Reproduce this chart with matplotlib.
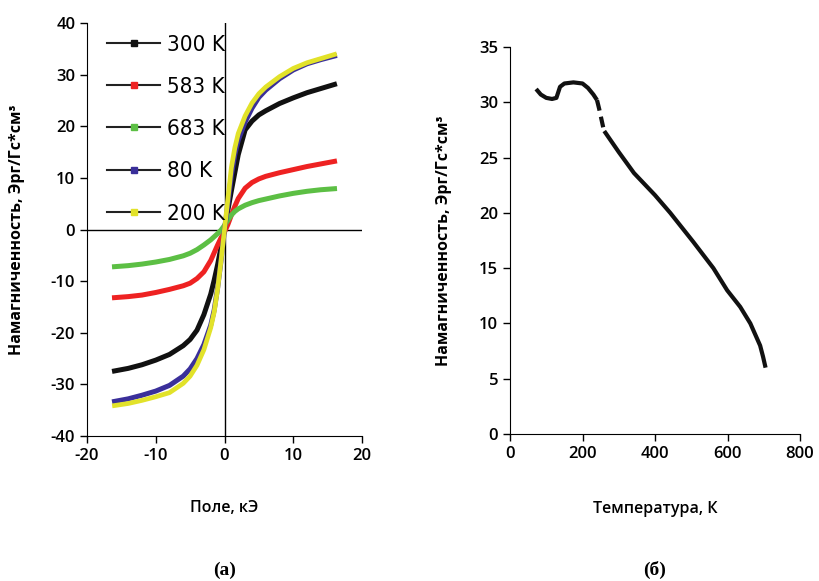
import numpy as np
import matplotlib.pyplot as plt
from matplotlib.lines import Line2D

# Поле, кЭ
H = [-16, -14, -12, -10, -8, -6, -5, -4, -3, -2, -1.5, -1, -0.5, 0,
     0.5, 1, 1.5, 2, 3, 4, 5, 6, 8, 10, 12, 14, 16]

m_300 = [-27.4, -26.9, -26.2, -25.3, -24.2, -22.5, -21.3, -19.5, -16.5, -12.5, -9.8, -6.8, -3.4, 0,
         3.8, 7.5, 11.0, 14.5, 19.3, 21.0, 22.2, 23.0, 24.4, 25.5, 26.5, 27.3, 28.1]
m_583 = [-13.2, -13.0, -12.7, -12.2, -11.6, -10.9, -10.4, -9.5, -8.2, -6.0, -4.5, -3.0, -1.6, -0.5,
         1.0, 2.8, 4.5, 6.0, 8.0, 9.1, 9.8, 10.3, 11.0, 11.6, 12.2, 12.7, 13.2]
m_683 = [-7.2, -7.0, -6.7, -6.3, -5.8, -5.1, -4.6, -3.9, -3.0, -2.0, -1.4, -0.8, -0.1, 0.8,
         1.8, 2.8, 3.5, 4.0, 4.7, 5.2, 5.6, 5.9, 6.5, 7.0, 7.4, 7.7, 7.9]
m_80 = [-33.3, -32.8, -32.1, -31.3, -30.2, -28.4, -27.0, -25.0, -22.3, -18.5, -15.6, -11.3, -6.0, 0,
        5.0, 10.5, 14.5, 17.3, 20.8, 23.5, 25.6, 27.0, 29.2, 30.9, 32.1, 32.9, 33.6]
m_200 = [-34.1, -33.7, -33.1, -32.4, -31.6, -29.8, -28.4, -26.3, -23.3, -19.0, -16.0, -11.5, -6.0, 0,
         6.0, 12.0, 15.8, 18.6, 22.0, 24.5, 26.3, 27.6, 29.6, 31.2, 32.3, 33.1, 33.9]

# Температура, К -> намагниченность
T_a = [72, 85, 100, 116, 128, 133, 138, 150, 175, 200, 215, 230, 240]
M_a = [31.2, 30.7, 30.4, 30.3, 30.4, 30.9, 31.4, 31.7, 31.8, 31.7, 31.3, 30.7, 30.2]
T_b = [240, 246, 252, 258]
M_b = [30.2, 29.4, 28.5, 27.6]
T_c = [260, 300, 342, 400, 442, 505, 561, 599, 635, 663, 690, 698, 705]
M_c = [27.4, 25.5, 23.6, 21.6, 20.0, 17.4, 15.0, 13.0, 11.5, 10.0, 8.0, 7.0, 6.0]

labels = ['300 K', '583 K', '683 K', '80 K', '200 K']
colors = ['#111111', '#ee2222', '#5cbf44', '#3a2f9a', '#e2e22a']

plt.rcParams['font.family'] = ['Open Sans', 'DejaVu Sans']
plt.rcParams['font.size'] = 12
plt.rcParams['axes.unicode_minus'] = False

fig = plt.figure(figsize=(8.19, 5.81), dpi=100)
ax1 = fig.add_axes([87 / 819, 1 - 436 / 581, 275 / 819, 413 / 581])
ax2 = fig.add_axes([510 / 819, 1 - 434 / 581, 290 / 819, 387 / 581])

# левый график
ax1.axhline(0, color='k', lw=1.0, zorder=1)
ax1.axvline(0, color='k', lw=1.0, zorder=1)
ax1.plot(H, m_300, color=colors[0], lw=3.6, zorder=2)
ax1.plot(H, m_583, color=colors[1], lw=3.6, zorder=2)
ax1.plot(H, m_683, color=colors[2], lw=3.6, zorder=2)
ax1.plot(H, m_80, color=colors[3], lw=3.6, zorder=3)
ax1.plot(H, m_200, color=colors[4], lw=3.4, zorder=4)

ax1.set_xlim(-20, 20)
ax1.set_ylim(-40, 40)
ax1.set_xticks(range(-20, 21, 10))
ax1.set_yticks(range(-40, 41, 10))
for s in ['top', 'right']:
    ax1.spines[s].set_visible(False)
ax1.tick_params(direction='out', length=5, width=1, labelsize=12)
for t in ax1.get_xticklabels() + ax1.get_yticklabels():
    t.set_fontweight('semibold')
ax1.set_xlabel('Поле, кЭ', fontsize=11.5, fontweight='semibold', labelpad=26)
ax1.set_ylabel('Намагниченность, Эрг/Гс*см³', fontsize=11.5, fontweight='bold')
ax1.yaxis.set_label_coords(-0.225, 0.5)

handles = [Line2D([0], [0], color='#222222', lw=1.5, marker='s', markersize=4,
                  markerfacecolor=c, markeredgecolor=c) for c in colors]
ax1.legend(handles, labels, loc='upper left', bbox_to_anchor=(0.0, 1.02), frameon=False,
           handlelength=2.4, handletextpad=0.3, labelspacing=1.0,
           prop={'family': 'DejaVu Sans', 'stretch': 'condensed', 'size': 16})

# правый график
ax2.plot(T_a, M_a, color='#111111', lw=3, solid_capstyle='butt')
ax2.plot(T_b, M_b, color='#111111', lw=3, linestyle=(0, (2.6, 1.5)))
ax2.plot(T_c, M_c, color='#111111', lw=3, solid_capstyle='butt')
ax2.set_xlim(0, 800)
ax2.set_ylim(0, 35)
ax2.set_xticks(range(0, 801, 200))
ax2.set_yticks(range(0, 36, 5))
for s in ['top', 'right']:
    ax2.spines[s].set_visible(False)
ax2.tick_params(direction='out', length=5, width=1, labelsize=12)
for t in ax2.get_xticklabels() + ax2.get_yticklabels():
    t.set_fontweight('semibold')
ax2.set_xlabel('Температура, К', fontsize=11.5, fontweight='semibold', labelpad=28)
ax2.set_ylabel('Намагниченность, Эрг/Гс*см³', fontsize=11.5, fontweight='bold')
ax2.yaxis.set_label_coords(-0.2, 0.5)

fig.text(225 / 819, 1 - 570 / 581, '(а)', ha='center', va='center', fontsize=14,
         fontweight='bold', family=['Liberation Serif', 'DejaVu Serif'])
fig.text(655 / 819, 1 - 570 / 581, '(б)', ha='center', va='center', fontsize=14,
         fontweight='bold', family=['Liberation Serif', 'DejaVu Serif'])

fig.savefig('out.png', dpi=100)
